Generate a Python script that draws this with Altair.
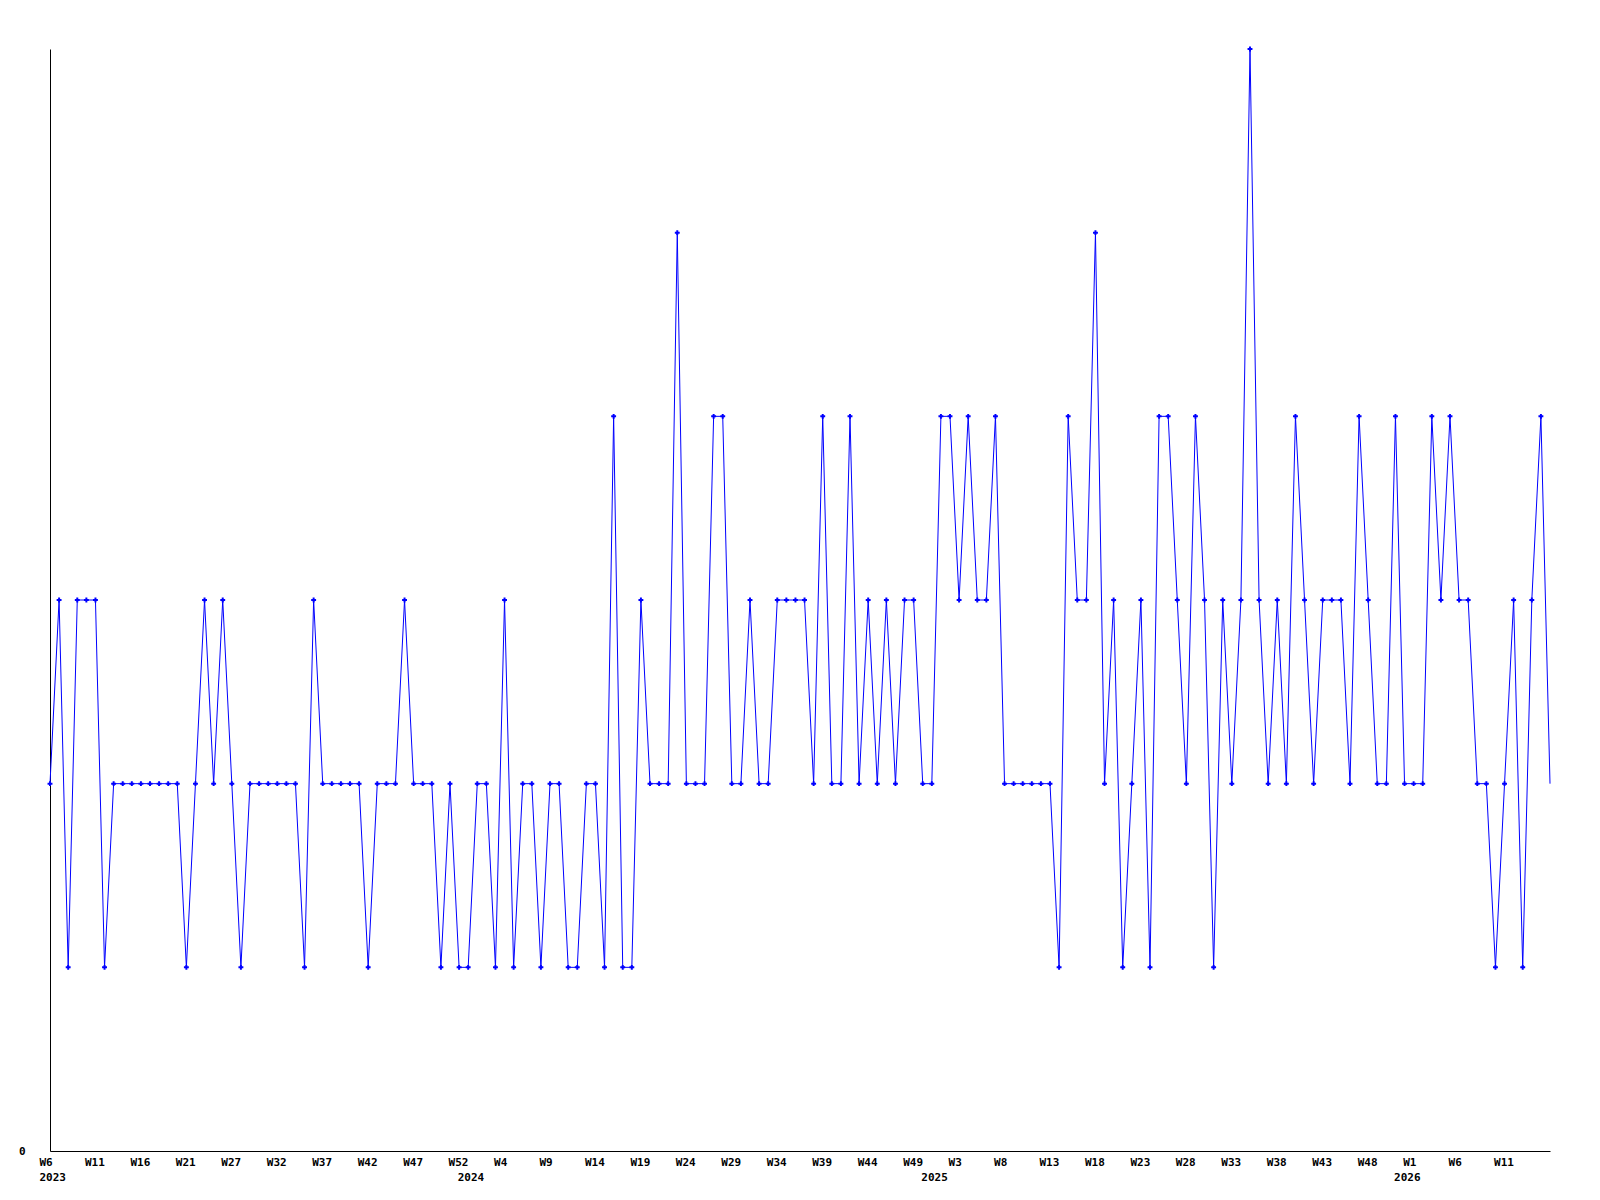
import altair as alt
import pandas as pd

# Weekly values (one per point, left to right)
values = [
    2, 3, 1, 3, 3, 3, 1, 2, 2, 2, 2, 2, 2, 2, 2, 1, 2, 3, 2, 3,
    2, 1, 2, 2, 2, 2, 2, 2, 1, 3, 2, 2, 2, 2, 2, 1, 2, 2, 2, 3,
    2, 2, 2, 1, 2, 1, 1, 2, 2, 1, 3, 1, 2, 2, 1, 2, 2, 1, 1, 2,
    2, 1, 4, 1, 1, 3, 2, 2, 2, 5, 2, 2, 2, 4, 4, 2, 2, 3, 2, 2,
    3, 3, 3, 3, 2, 4, 2, 2, 4, 2, 3, 2, 3, 2, 3, 3, 2, 2, 4, 4,
    3, 4, 3, 3, 4, 2, 2, 2, 2, 2, 2, 1, 4, 3, 3, 5, 2, 3, 1, 2,
    3, 1, 4, 4, 3, 2, 4, 3, 1, 3, 2, 3, 6, 3, 2, 3, 2, 4, 3, 2,
    3, 3, 3, 2, 4, 3, 2, 2, 4, 2, 2, 2, 4, 3, 4, 3, 3, 2, 2, 1,
    2, 3, 1, 3, 4, 2,
]

# Week tick labels (one every 5 points) and year labels
week_labels = ["W6", "W11", "W16", "W21", "W27", "W32", "W37", "W42", "W47", "W52",
               "W4", "W9", "W14", "W19", "W24", "W29", "W34", "W39", "W44", "W49",
               "W3", "W8", "W13", "W18", "W23", "W28", "W33", "W38", "W43", "W48",
               "W1", "W6", "W11"]
week_label_idx = [5 * k for k in range(len(week_labels))]
year_labels = ["2023", "2024", "2025", "2026"]
year_label_idx = [0, 46, 97, 149]

n = len(values)
df = pd.DataFrame({"i": list(range(n)), "v": values})
df["marker"] = [1] * (n - 1) + [0]
wk = pd.DataFrame({"i": week_label_idx, "t": week_labels})
yr = pd.DataFrame({"i": year_label_idx, "t": year_labels})

W, H = 1500, 1102
FONT = "DejaVu Sans Mono"

xs = alt.Scale(domain=[0, n - 1], nice=False, zero=False)
ys = alt.Scale(domain=[0, 6], nice=False)

x_enc = alt.X("i:Q", scale=xs,
              axis=alt.Axis(labels=False, ticks=False, grid=False, title=None,
                            domainColor="black", domainWidth=1))
y_enc = alt.Y("v:Q", scale=ys,
              axis=alt.Axis(values=[0], format="d", ticks=False, grid=False, title=None,
                            domainColor="black", domainWidth=1,
                            labelFont=FONT, labelFontWeight="bold", labelFontSize=11,
                            labelColor="black", labelPadding=25))

line = alt.Chart(df).mark_line(color="#0000ff", strokeWidth=1).encode(x=x_enc, y=y_enc)

points = alt.Chart(df).transform_filter("datum.marker == 1").mark_point(
    shape="cross", filled=True, size=24, color="#0000ff", opacity=1
).encode(x=alt.X("i:Q", scale=xs), y=alt.Y("v:Q", scale=ys))

wtext = alt.Chart(wk).mark_text(
    align="left", baseline="alphabetic", dx=-10.5, font=FONT, fontWeight="bold",
    fontSize=11, color="black"
).encode(x=alt.X("i:Q", scale=xs), y=alt.value(H + 15), text="t:N")

ytext = alt.Chart(yr).mark_text(
    align="left", baseline="alphabetic", dx=-10.5, font=FONT, fontWeight="bold",
    fontSize=11, color="black"
).encode(x=alt.X("i:Q", scale=xs), y=alt.value(H + 30), text="t:N")

chart = alt.layer(line, points, wtext, ytext).properties(
    width=W, height=H,
    autosize=alt.AutoSizeParams(type="none"),
    padding={"left": 42, "top": 41, "right": 40, "bottom": 40},
    background="white",
).configure_view(stroke=None)

chart.save("out.html", embed_options={"renderer": "svg", "actions": False})
